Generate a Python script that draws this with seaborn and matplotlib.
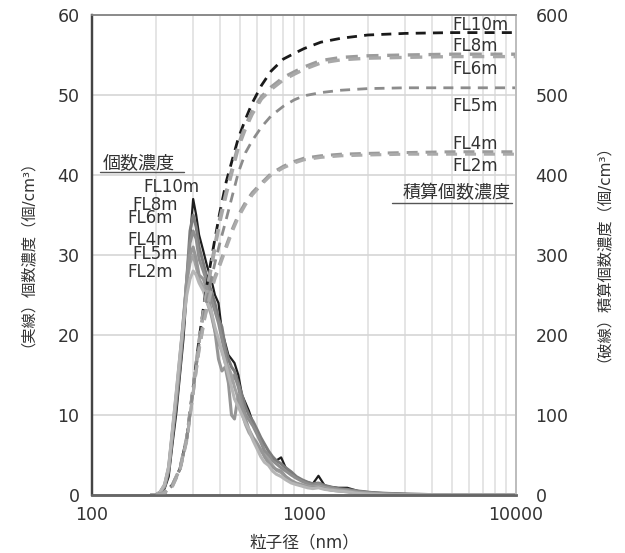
import numpy as np
import pandas as pd
import matplotlib
matplotlib.use("Agg")
import matplotlib.pyplot as plt
from matplotlib.lines import Line2D
from matplotlib.ticker import FixedLocator, NullFormatter
import seaborn as sns

# ---------------- data ----------------
series = ["FL10m", "FL8m", "FL6m", "FL5m", "FL4m", "FL2m"]

# particle diameter (nm) for number concentration curves
size_nm = [190, 200, 210, 220, 230, 240, 250, 260, 270, 280,
           290, 300, 310, 320, 335, 350, 365, 380, 395, 410,
           425, 440, 455, 470, 490, 510, 530, 550, 575, 600,
           625, 650, 680, 710, 740, 780, 820, 870, 920, 980,
           1040, 1100, 1170, 1250, 1340, 1450, 1600, 1800, 2100, 2500,
           3200, 5000, 10000]

conc_fl10 = [0, 0, 0.2, 0.8, 2.3, 6.5, 10.3, 15, 19.5, 25.5,
             32, 37, 35, 32.5, 30.5, 28.5, 27, 25, 24, 20.5,
             19, 17.5, 17, 16.5, 15, 12.5, 11.5, 10.5, 9, 7.8,
             6.8, 5.5, 4.8, 4.6, 4.3, 4.7, 3.4, 2.8, 2.2, 1.8,
             1.6, 1.4, 2.4, 1.2, 1.0, 0.9, 0.9, 0.5, 0.3, 0.2,
             0.1, 0, 0]
conc_fl8 = [0, 0, 0.3, 1.0, 3.0, 7.5, 11.5, 16, 21, 27,
            33, 35, 33.5, 31, 29, 27, 25.5, 24, 22, 21,
            18.5, 17, 16, 15.5, 14, 12.5, 11, 10, 9.2, 8.2,
            7.2, 6.4, 5.5, 4.8, 4.3, 3.9, 3.4, 2.9, 2.3, 1.9,
            1.6, 1.4, 1.5, 1.2, 1.0, 0.8, 0.7, 0.5, 0.3, 0.2,
            0.1, 0, 0]
conc_fl6 = [0, 0, 0.3, 1.1, 3.2, 7.8, 12, 16.5, 21.5, 27,
            31.5, 33, 32, 29.5, 28, 26.5, 24.5, 23, 21.5, 19.5,
            17.5, 15.5, 14, 15, 13.5, 11.5, 10, 9.4, 8.6, 7.6,
            6.6, 5.6, 5.0, 4.3, 3.9, 3.4, 3.0, 2.5, 2.1, 1.7,
            1.4, 1.2, 1.4, 1.0, 0.9, 0.7, 0.6, 0.4, 0.2, 0.1,
            0.1, 0, 0]
conc_fl5 = [0, 0, 0.4, 1.3, 3.5, 8.2, 12.8, 17.5, 22, 26.5,
            29, 30, 28.5, 27, 26, 24, 22.5, 20.5, 19, 18,
            16.5, 16, 15, 13.5, 12, 10.2, 8.8, 7.8, 7, 6.2,
            5.5, 5.1, 4.5, 3.7, 3.1, 2.8, 2.3, 1.8, 1.5, 1.3,
            1.1, 1.0, 1.1, 0.9, 0.7, 0.6, 0.5, 0.3, 0.2, 0.1,
            0, 0, 0]
conc_fl4 = [0, 0, 0.4, 1.2, 3.4, 8, 12.5, 17, 22, 27,
            30, 31, 29.5, 27.5, 27, 25.5, 23, 20.5, 17, 15.5,
            16, 14, 10, 9.5, 12.5, 10.8, 9.5, 8.2, 7.2, 6.5,
            5.7, 4.8, 4.0, 3.5, 3.2, 3.0, 2.3, 1.8, 1.4, 1.2,
            1.0, 0.9, 1.0, 0.8, 0.6, 0.5, 0.4, 0.2, 0.1, 0.1,
            0, 0, 0]
conc_fl2 = [0, 0, 0.4, 1.3, 3.6, 8.4, 13, 17.5, 21.5, 25,
            27, 28, 27.5, 26.5, 25.5, 24, 23, 21, 19.5, 18,
            16.5, 15, 13.5, 12, 11, 10, 9, 8.2, 6.8, 5.8,
            4.8, 4.1, 3.7, 3.0, 2.6, 2.3, 1.9, 1.5, 1.3, 1.1,
            0.9, 0.8, 0.9, 0.7, 0.6, 0.5, 0.4, 0.2, 0.1, 0,
            0, 0, 0]

# particle diameter (nm) for cumulative curves
cum_nm = [200, 220, 240, 260, 280, 300, 320, 340, 360, 380,
          400, 430, 460, 490, 530, 570, 630, 700, 800, 900,
          1000, 1200, 1500, 2000, 3000, 5000, 10000]

cum_fl10 = [0, 3, 13, 33, 72, 135, 195, 245, 285, 320,
            352, 392, 420, 446, 470, 490, 512, 530, 545, 552,
            558, 566, 571, 575, 577, 578, 578]
cum_fl8 = [0, 3, 13, 33, 72, 134, 193, 240, 278, 312,
           345, 380, 410, 438, 462, 480, 498, 510, 522, 529,
           535, 543, 547, 549, 550, 551, 551]
cum_fl6 = [0, 3, 13, 33, 71, 133, 191, 238, 275, 308,
           340, 376, 406, 434, 458, 476, 495, 507, 519, 526,
           532, 540, 544, 546, 547, 548, 548]
cum_fl5 = [0, 2, 12, 32, 70, 132, 188, 230, 262, 290,
           314, 345, 375, 403, 428, 443, 460, 474, 486, 494,
           499, 503, 506, 508, 509, 509, 509]
cum_fl4 = [0, 2, 12, 32, 69, 128, 183, 222, 252, 273,
           289, 312, 333, 350, 366, 378, 390, 402, 411, 417,
           421, 424, 426, 427, 428, 429, 429]
cum_fl2 = [0, 2, 11, 31, 68, 127, 181, 220, 249, 270,
           286, 309, 330, 347, 363, 375, 388, 400, 409, 415,
           419, 422, 424, 425, 426, 426, 426]

x_ticks = [100, 1000, 10000]
x_tick_labels = ["100", "1000", "10000"]
left_ticks = [0, 10, 20, 30, 40, 50, 60]
right_ticks = [0, 100, 200, 300, 400, 500, 600]

conc = dict(zip(series, [conc_fl10, conc_fl8, conc_fl6, conc_fl5, conc_fl4, conc_fl2]))
cum = dict(zip(series, [cum_fl10, cum_fl8, cum_fl6, cum_fl5, cum_fl4, cum_fl2]))

conc_df = pd.DataFrame([(s, d, v) for s in series for d, v in zip(size_nm, conc[s])],
                       columns=["series", "size", "value"])
cum_df = pd.DataFrame([(s, d, v) for s in series for d, v in zip(cum_nm, cum[s])],
                      columns=["series", "size", "value"])

# ---------------- style ----------------
sns.set_theme(style="white")
plt.rcParams["font.family"] = ["DejaVu Sans", "Noto Sans CJK JP"]
text_color = "#333333"

solid_style = {
    "FL10m": ("#1e1e1e", 1.6),
    "FL8m": ("#7c7c7c", 2.2),
    "FL6m": ("#8e8e8e", 2.2),
    "FL5m": ("#a2a2a2", 2.2),
    "FL4m": ("#969696", 2.2),
    "FL2m": ("#b5b5b5", 2.2),
}
dash_style = {
    "FL10m": ("#1a1a1a", 2.0),
    "FL8m": ("#9c9c9c", 2.4),
    "FL6m": ("#a8a8a8", 2.4),
    "FL5m": ("#8c8c8c", 2.0),
    "FL4m": ("#9a9a9a", 2.2),
    "FL2m": ("#ababab", 2.2),
}

fig = plt.figure(figsize=(6.25, 5.53), dpi=100)
ax = fig.add_axes([92 / 625, 58 / 553, 424 / 625, 480 / 553])
ax2 = ax.twinx()

# solid: number concentration (black drawn first, greys over it)
for s in series:
    c, lw = solid_style[s]
    sns.lineplot(data=conc_df[conc_df.series == s], x="size", y="value",
                 ax=ax, color=c, lw=lw, estimator=None, legend=False)

# dashed: cumulative number concentration
for s in series:
    c, lw = dash_style[s]
    sns.lineplot(data=cum_df[cum_df.series == s], x="size", y="value",
                 ax=ax2, color=c, lw=lw, estimator=None, legend=False,
                 dashes=False)
    ax2.lines[-1].set_dashes((3.6, 2.6))

for a in (ax, ax2):
    a.set_xscale("log")
    a.set_xlim(100, 10000)
ax.set_ylim(0, 60)
ax2.set_ylim(0, 600)

ax.set_xticks(x_ticks)
ax.set_xticklabels(x_tick_labels)
ax.xaxis.set_minor_locator(FixedLocator(
    [m * 10 ** e for e in (2, 3) for m in range(2, 10)]))
ax.xaxis.set_minor_formatter(NullFormatter())
ax.set_yticks(left_ticks)
ax2.set_yticks(right_ticks)

ax.set_axisbelow(True)
ax.grid(axis="x", which="both", color="#dedede", lw=1.1)
ax.grid(axis="y", which="major", color="#d6d6d6", lw=1.2)
ax2.grid(False)

ax.tick_params(axis="both", which="both", length=0, colors=text_color, labelsize=12.5)
ax.tick_params(axis="y", pad=9)
ax.tick_params(axis="x", pad=8)
ax2.tick_params(axis="y", length=0, colors=text_color, labelsize=12.5, pad=14)

for a in (ax, ax2):
    a.spines["left"].set_color("#444444")
    a.spines["left"].set_linewidth(1.6)
    a.spines["bottom"].set_color("#666666")
    a.spines["bottom"].set_linewidth(1.8)
    a.spines["top"].set_color("#8a8a8a")
    a.spines["top"].set_linewidth(1.2)
    a.spines["right"].set_color("#bdbdbd")
    a.spines["right"].set_linewidth(1.4)

ax.set_xlabel("粒子径（nm）", fontsize=12, color=text_color)
ax.xaxis.set_label_coords(0.5, -0.08)
ax.set_ylabel("（実線）個数濃度（個/cm³）", fontsize=11, color=text_color)
ax.yaxis.set_label_coords(-0.155, 0.52)
ax2.set_ylabel("（破線）積算個数濃度（個/cm³）", fontsize=11, color=text_color,
               rotation=90)
ax2.yaxis.set_label_coords(1.17, 0.52)
ax2.set_xlabel("")

# curve labels near the peaks (left axis units)
peak_labels = [("FL10m", 174, 38.5), ("FL8m", 154.5, 36.25), ("FL6m", 146.3, 34.6),
               ("FL4m", 146.3, 31.9), ("FL5m", 154.5, 30.1), ("FL2m", 146.3, 27.9)]
for name, xv, yv in peak_labels:
    ax.text(xv, yv, name, fontsize=12, color=text_color, ha="left", va="center",
            zorder=5)

# curve labels at the plateaus (left axis units)
end_labels = [("FL10m", 58.75), ("FL8m", 56.1), ("FL6m", 53.25),
              ("FL5m", 48.6), ("FL4m", 43.9), ("FL2m", 41.1)]
for name, yv in end_labels:
    ax.text(4990, yv, name, fontsize=12, color=text_color, ha="left", va="center",
            zorder=5)

# underlined captions
ax.text(0.026, 0.692, "個数濃度", transform=ax.transAxes, fontsize=13,
        color=text_color, ha="left", va="center")
ax.add_line(Line2D([0.019, 0.217], [0.673, 0.673], transform=ax.transAxes,
                   color="#555555", lw=1.0, clip_on=False))
ax.text(0.987, 0.629, "積算個数濃度", transform=ax.transAxes, fontsize=13,
        color=text_color, ha="right", va="center")
ax.add_line(Line2D([0.708, 0.991], [0.608, 0.608], transform=ax.transAxes,
                   color="#555555", lw=1.0, clip_on=False))

fig.savefig("out.png", dpi=100, facecolor="white")
